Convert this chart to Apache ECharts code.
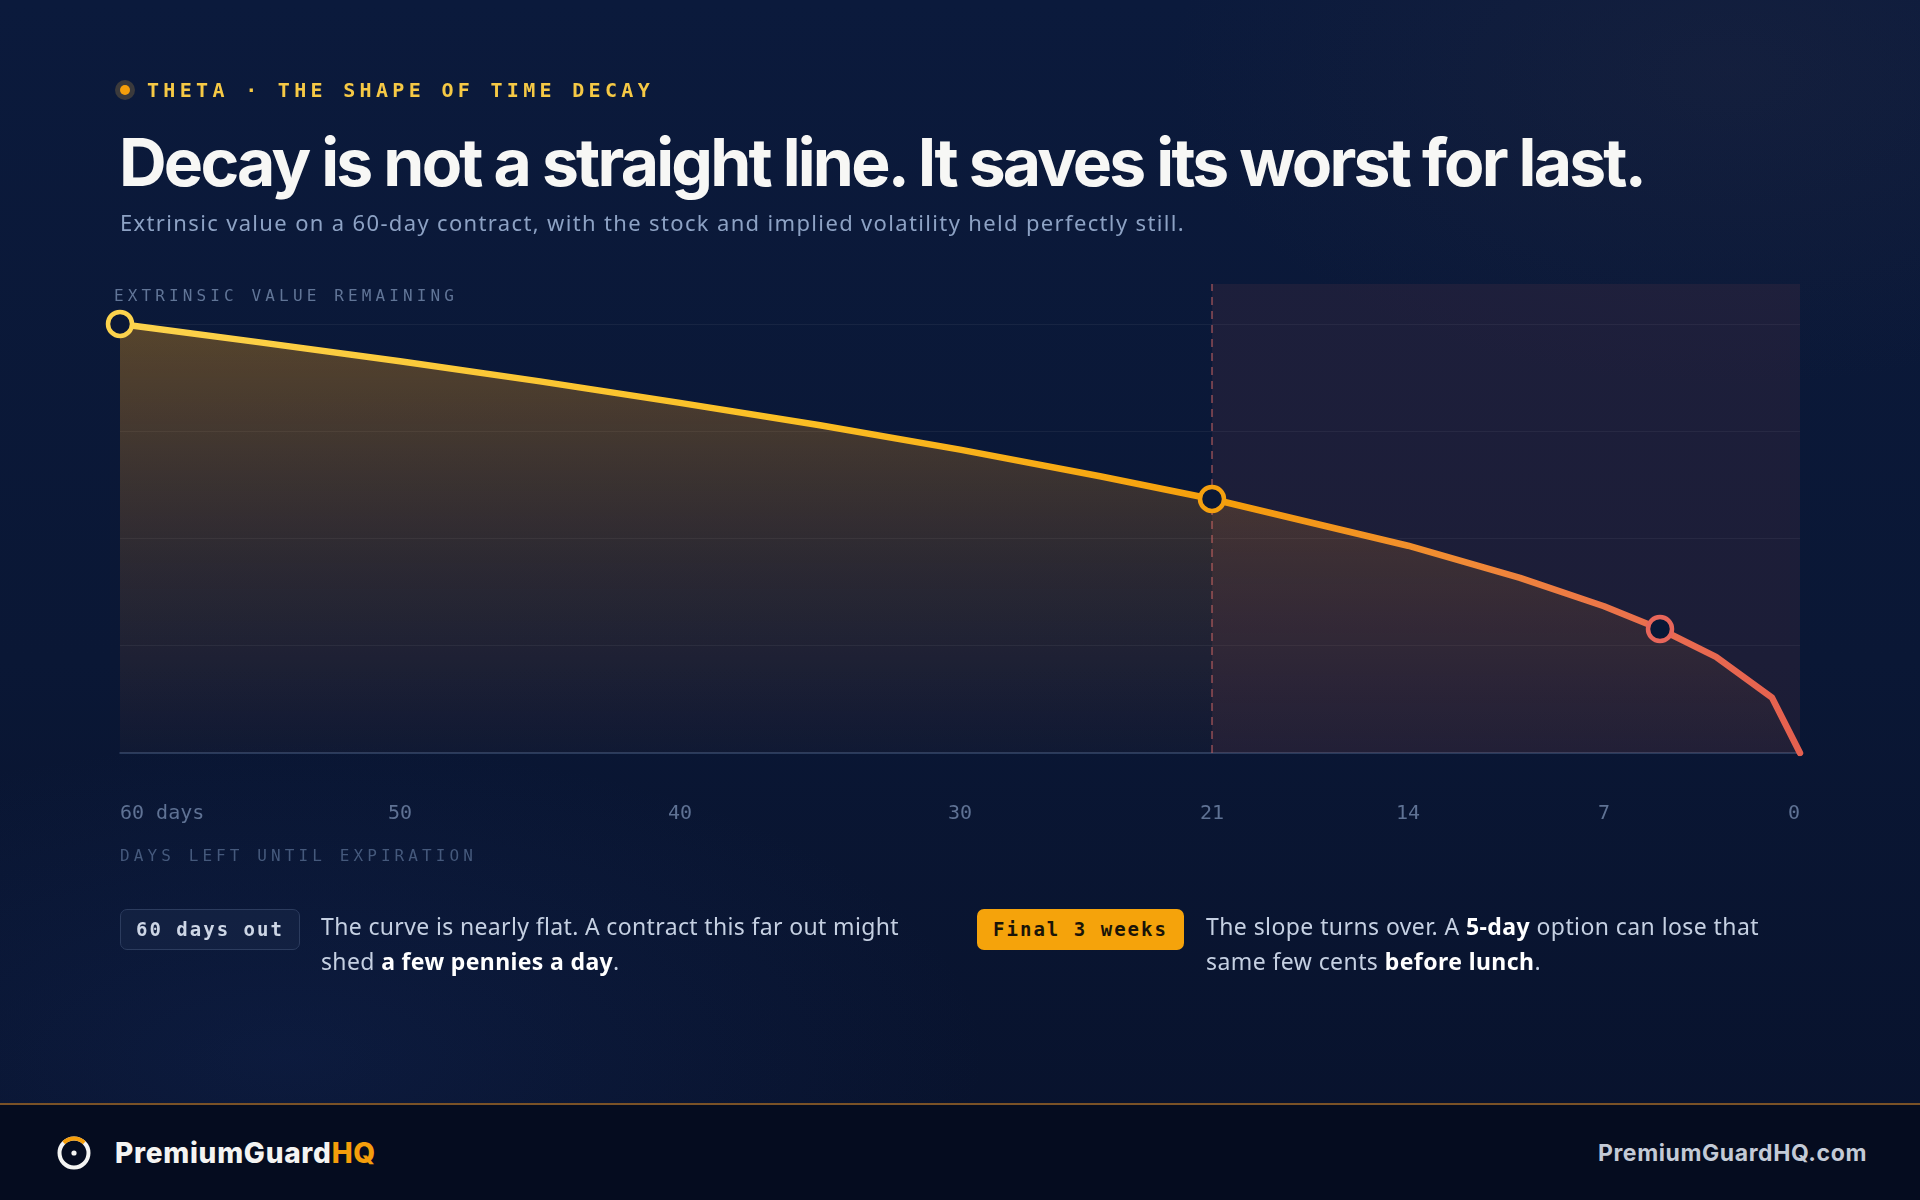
<!DOCTYPE html>
<html>
<head>
<meta charset="utf-8">
<script src="https://cdn.jsdelivr.net/npm/echarts@6/dist/echarts.min.js"></script>
<style>
  html,body{margin:0;padding:0;width:1920px;height:1200px;overflow:hidden;}
  body{position:relative;
    background:
      radial-gradient(ellipse 800px 450px at 90% 6%, rgba(60,55,70,0.18), rgba(0,0,0,0) 70%),
      radial-gradient(ellipse 1000px 450px at 15% 88%, rgba(30,60,130,0.18), rgba(0,0,0,0) 70%),
      linear-gradient(180deg,#0b1a3c 0%,#0a1735 55%,#08122c 100%);
  }
  #chart{position:absolute;left:0;top:0;width:1920px;height:1200px;z-index:1;}
  .t{position:absolute;white-space:nowrap;z-index:2;}
  .fit{display:inline-block;}
  .mono{font-family:"DejaVu Sans Mono","Liberation Mono",monospace;}
  #eyedot{position:absolute;left:115px;top:80px;width:20px;height:20px;border-radius:50%;background:#3b3a3c;z-index:2;}
  #eyedot:after{content:"";position:absolute;left:5px;top:5px;width:10px;height:10px;border-radius:50%;background:#F59E0B;}
  #eyebrow{left:147px;top:78px;line-height:24px;font-size:20px;font-weight:700;color:#F6C945;}
  #title{left:119px;top:127px;line-height:70px;font-family:Inter,"Noto Sans",sans-serif;font-weight:700;font-size:66px;color:#F7F7F5;}
  #subtitle{left:120px;top:207px;line-height:30px;font-family:"Noto Sans",Roboto,sans-serif;font-size:22px;color:#8DA2C4;}
  #yname{left:114px;top:286px;line-height:20px;font-size:16px;color:#617597;}
  #xname{left:120px;top:846px;line-height:20px;font-size:16px;color:#45597C;}
  .pill{position:absolute;top:909px;height:41px;border-radius:7px;box-sizing:border-box;z-index:2;
        font-family:"DejaVu Sans Mono",monospace;font-weight:700;font-size:19px;line-height:41px;text-align:center;}
  #pill1{left:120px;width:180px;border:1px solid #2C3C5E;background:rgba(25,40,72,0.55);color:#CDD6E6;line-height:39px;}
  #pill2{left:977px;width:207px;background:#F5A30B;color:#1A1408;}
  .note{position:absolute;top:909px;z-index:2;font-family:"Noto Sans",Roboto,sans-serif;font-size:23px;line-height:35px;color:#C5D0E2;}
  .note b{color:#FFFFFF;font-weight:700;}
  .note div{white-space:nowrap;}
  #footer{position:absolute;left:0;top:1103px;width:1920px;height:97px;background:#050C1F;border-top:2px solid rgba(200,130,45,0.6);z-index:2;}
  #logo{position:absolute;left:56px;top:1135px;z-index:3;}
  #brand{left:115px;top:1136px;line-height:34px;font-family:Inter,sans-serif;font-weight:800;font-size:28px;color:#F4F4F2;z-index:3;}
  #brand span.hq{color:#F59E0B;}
  #url{right:53px;top:1139px;line-height:28px;font-family:Inter,sans-serif;font-weight:700;font-size:23px;color:#C3CAD6;z-index:3;}
</style>
</head>
<body>
<div id="chart"></div>

<div id="eyedot"></div>
<div id="eyebrow" class="t mono"><span class="fit" data-fit="507">THETA · THE SHAPE OF TIME DECAY</span></div>
<div id="title" class="t"><span class="fit" data-fit="1525">Decay is not a straight line. It saves its worst for last.</span></div>
<div id="subtitle" class="t"><span class="fit" data-fit="1065">Extrinsic value on a 60-day contract, with the stock and implied volatility held perfectly still.</span></div>
<div id="yname" class="t mono"><span class="fit" data-fit="344">EXTRINSIC VALUE REMAINING</span></div>
<div id="xname" class="t mono"><span class="fit" data-fit="357">DAYS LEFT UNTIL EXPIRATION</span></div>

<div id="pill1" class="pill"><span class="fit" data-fit="148">60 days out</span></div>
<div class="note" id="note1" style="left:321px;">
  <div><span class="fit" data-fit="578" data-group="n1">The curve is nearly flat. A contract this far out might</span></div>
  <div><span class="fit" data-follow="n1">shed <b>a few pennies a day</b>.</span></div>
</div>
<div id="pill2" class="pill"><span class="fit" data-fit="175">Final 3 weeks</span></div>
<div class="note" id="note2" style="left:1206px;">
  <div><span class="fit" data-fit="553" data-group="n2">The slope turns over. A <b>5-day</b> option can lose that</span></div>
  <div><span class="fit" data-follow="n2">same few cents <b>before lunch</b>.</span></div>
</div>

<div id="footer"></div>
<svg id="logo" width="36" height="36" viewBox="0 0 36 36">
  <circle cx="18" cy="18" r="14.5" fill="none" stroke="#F4F4F2" stroke-width="4"/>
  <path d="M 7.74 7.74 A 14.5 14.5 0 0 1 28.26 7.74" fill="none" stroke="#F59E0B" stroke-width="4"/>
  <circle cx="18" cy="18" r="2.6" fill="#F4F4F2"/>
</svg>
<div id="brand" class="t"><span class="fit" data-fit="261">PremiumGuard<span class="hq">HQ</span></span></div>
<div id="url" class="t"><span class="fit" data-fit="269">PremiumGuardHQ.com</span></div>

<script>
// ---- data ----
const days      = [60, 55, 50, 45, 40, 35, 30, 25, 21, 14, 10, 7, 5, 3, 1, 0];
const extrinsic = [100, 95.7, 91.3, 86.6, 81.6, 76.4, 70.7, 64.5, 59.2, 48.3, 40.8, 34.2, 28.9, 22.4, 12.9, 0];
const tickDays  = [60, 50, 40, 30, 21, 14, 7, 0];
const tickLabels = ['60 days', '50', '40', '30', '21', '14', '7', '0'];
const markerDays = [60, 21, 5];
const finalWindow = [21, 0];

// ---- styles ----
const markerBorders = ['#FCD34D', '#F5A00F', '#E8665A'];

function fitAll(){
  const groups = {};
  document.querySelectorAll('.fit[data-fit]').forEach(el=>{
    el.style.letterSpacing = '0px';
    const w = el.getBoundingClientRect().width;
    const n = el.textContent.length;
    const ls = (parseFloat(el.dataset.fit) - w) / n;
    el.style.letterSpacing = ls.toFixed(3) + 'px';
    if (el.dataset.group) groups[el.dataset.group] = ls;
  });
  document.querySelectorAll('.fit[data-follow]').forEach(el=>{
    const ls = groups[el.dataset.follow] || 0;
    el.style.letterSpacing = ls.toFixed(3) + 'px';
  });
}
fitAll();
if (document.fonts && document.fonts.ready) document.fonts.ready.then(fitAll);

const chart = echarts.init(document.getElementById('chart'), null, {renderer:'canvas'});
const lineData = days.map((d,i)=>[d, extrinsic[i]]);
const markers = markerDays.map((d,i)=>({
  value:[d, extrinsic[days.indexOf(d)]],
  itemStyle:{borderColor: markerBorders[i]}
}));

chart.setOption({
  animation:false,
  backgroundColor:'transparent',
  grid:{left:120, right:120, top:284, bottom:447, containLabel:false},
  xAxis:{
    type:'value', min:0, max:60, inverse:true,
    axisLine:{show:true, lineStyle:{color:'#34476A', width:1.5}},
    axisTick:{show:false},
    splitLine:{show:false},
    axisLabel:{
      customValues: tickDays,
      formatter: v => tickLabels[tickDays.indexOf(v)],
      color:'#5F7294', fontFamily:'DejaVu Sans Mono', fontSize:20, margin:51,
      alignMinLabel:'left', alignMaxLabel:'right'
    }
  },
  yAxis:{
    type:'value', min:0, max:109.3, interval:25,
    axisLine:{show:false}, axisTick:{show:false}, axisLabel:{show:false},
    splitLine:{show:true, showMinLine:false, showMaxLine:false, lineStyle:{color:'rgba(255,255,255,0.055)', width:1}}
  },
  series:[
    {
      type:'line', data:lineData, symbol:'none', smooth:false, z:3,
      lineStyle:{width:6.5, cap:'round', join:'round',
        color:new echarts.graphic.LinearGradient(0,0,1,0,[
          {offset:0, color:'#FCD34D'},
          {offset:0.4, color:'#FBBF24'},
          {offset:0.66, color:'#F59E0B'},
          {offset:0.8, color:'#F08A36'},
          {offset:0.92, color:'#E96C50'},
          {offset:1, color:'#E5604F'}
        ])},
      areaStyle:{origin:'start', opacity:1, color:new echarts.graphic.LinearGradient(0,0,0,1,[
          {offset:0, color:'rgba(245,160,20,0.33)'},
          {offset:0.55, color:'rgba(240,145,30,0.15)'},
          {offset:1, color:'rgba(230,125,60,0.03)'}
        ])},
      markArea:{silent:true, itemStyle:{color:'rgba(240,105,95,0.08)'},
        data:[[{xAxis:finalWindow[0]},{xAxis:finalWindow[1]}]]},
      markLine:{silent:true, symbol:['none','none'], label:{show:false},
        lineStyle:{type:[8,6], color:'rgba(225,110,105,0.6)', width:1.5},
        data:[{xAxis:finalWindow[0]}]}
    },
    {
      type:'scatter', data:markers, symbol:'circle', symbolSize:24, z:5,
      itemStyle:{color:'#0B1836', borderWidth:4.5, opacity:1}
    }
  ]
});
</script>
</body>
</html>
